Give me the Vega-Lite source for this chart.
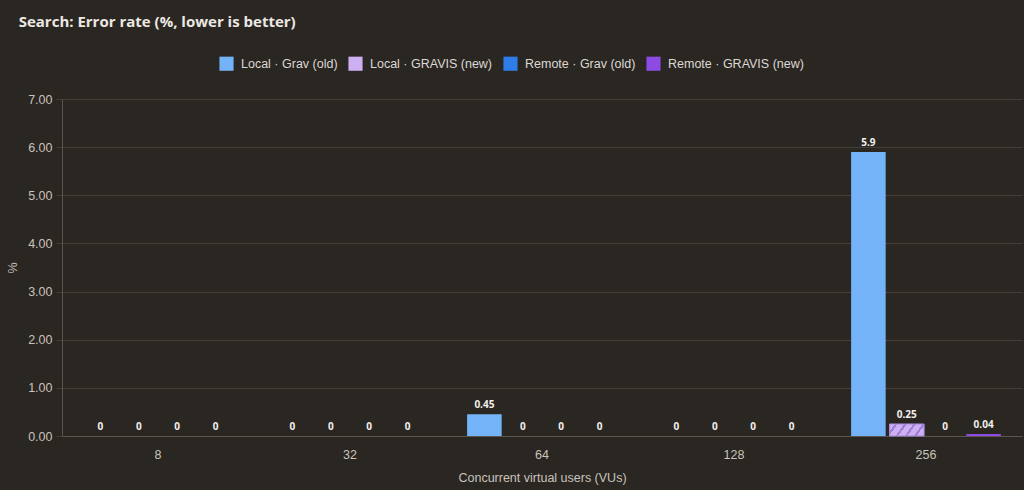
{
  "$schema": "https://vega.github.io/schema/vega-lite/v6.json",
  "autosize": {"type": "fit", "contains": "padding"},
  "width": 1024,
  "height": 490,
  "padding": {"left": 6, "right": 2, "top": 15, "bottom": 6},
  "background": "#2a2622",
  "title": {"text": "Search: Error rate (%, lower is better)", "anchor": "start", "font": "Open Sans", "fontSize": 15, "fontWeight": "bold", "color": "#ece8e2", "offset": 63, "dx": 12},
  "config": {
    "view": {"stroke": null},
    "axis": {"labelFont": "Liberation Sans", "titleFont": "Liberation Sans", "labelColor": "#c9c3bb", "titleColor": "#c9c3bb", "titleFontWeight": "normal", "labelFontSize": 12.5, "titleFontSize": 12.5, "domainColor": "#5a554f", "gridColor": "#433e38", "tickColor": "#433e38"}
  },
  "data": {"values": [
    {"vus": "8", "series": "Local · Grav (old)", "value": 0},
    {"vus": "8", "series": "Local · GRAVIS (new)", "value": 0},
    {"vus": "8", "series": "Remote · Grav (old)", "value": 0},
    {"vus": "8", "series": "Remote · GRAVIS (new)", "value": 0},
    {"vus": "32", "series": "Local · Grav (old)", "value": 0},
    {"vus": "32", "series": "Local · GRAVIS (new)", "value": 0},
    {"vus": "32", "series": "Remote · Grav (old)", "value": 0},
    {"vus": "32", "series": "Remote · GRAVIS (new)", "value": 0},
    {"vus": "64", "series": "Local · Grav (old)", "value": 0.45},
    {"vus": "64", "series": "Local · GRAVIS (new)", "value": 0},
    {"vus": "64", "series": "Remote · Grav (old)", "value": 0},
    {"vus": "64", "series": "Remote · GRAVIS (new)", "value": 0},
    {"vus": "128", "series": "Local · Grav (old)", "value": 0},
    {"vus": "128", "series": "Local · GRAVIS (new)", "value": 0},
    {"vus": "128", "series": "Remote · Grav (old)", "value": 0},
    {"vus": "128", "series": "Remote · GRAVIS (new)", "value": 0},
    {"vus": "256", "series": "Local · Grav (old)", "value": 5.9},
    {"vus": "256", "series": "Local · GRAVIS (new)", "value": 0.25},
    {"vus": "256", "series": "Remote · Grav (old)", "value": 0},
    {"vus": "256", "series": "Remote · GRAVIS (new)", "value": 0.04}
  ]},
  "encoding": {
    "x": {"field": "vus", "type": "ordinal", "sort": ["8", "32", "64", "128", "256"],
      "scale": {"paddingInner": 0.2, "paddingOuter": 0.1},
      "axis": {"title": "Concurrent virtual users (VUs)", "labelAngle": 0, "ticks": false, "labelPadding": 12, "titlePadding": 11, "grid": false}},
    "xOffset": {"field": "series", "type": "nominal",
      "scale": {"domain": ["Local · Grav (old)", "Local · GRAVIS (new)", "Remote · Grav (old)", "Remote · GRAVIS (new)"], "paddingInner": 0.1, "paddingOuter": 0.05}},
    "y": {"field": "value", "type": "quantitative",
      "scale": {"domain": [0, 7]},
      "axis": {"title": "%", "values": [0, 1, 2, 3, 4, 5, 6, 7], "format": ".2f", "tickSize": 6, "labelPadding": 4, "titlePadding": 8, "domain": true}}
  },
  "layer": [
    {
      "mark": {"type": "bar"},
      "encoding": {
        "color": {"field": "series", "type": "nominal",
          "scale": {"domain": ["Local · Grav (old)", "Local · GRAVIS (new)", "Remote · Grav (old)", "Remote · GRAVIS (new)"], "range": ["#74b3f7", "#cdb0f2", "#2f7de8", "#8c4be3"]},
          "legend": {"orient": "none", "legendX": 157, "legendY": -43, "direction": "horizontal", "title": null, "labelColor": "#dcd8d2", "labelFont": "Liberation Sans", "labelFontSize": 12.5, "symbolType": "square", "symbolSize": 200, "symbolStrokeWidth": 0, "symbolOpacity": 1, "columnPadding": 10, "labelOffset": 7}
        }
      }
    },
    {
      "transform": [{"filter": "datum.series === 'Local · GRAVIS (new)' && datum.value > 0"}],
      "mark": {"type": "bar", "stroke": "#a58ad8", "strokeWidth": 1, "color": {"gradient": "linear", "x1": 0, "y1": 0, "x2": 1, "y2": 0.25, "stops": [
        {"offset": 0, "color": "#cdb0f2"}, {"offset": 0.15, "color": "#cdb0f2"}, {"offset": 0.15, "color": "#a27fd6"}, {"offset": 0.22, "color": "#a27fd6"},
        {"offset": 0.22, "color": "#cdb0f2"}, {"offset": 0.4, "color": "#cdb0f2"}, {"offset": 0.4, "color": "#a27fd6"}, {"offset": 0.47, "color": "#a27fd6"},
        {"offset": 0.47, "color": "#cdb0f2"}, {"offset": 0.65, "color": "#cdb0f2"}, {"offset": 0.65, "color": "#a27fd6"}, {"offset": 0.72, "color": "#a27fd6"},
        {"offset": 0.72, "color": "#cdb0f2"}, {"offset": 0.9, "color": "#cdb0f2"}, {"offset": 0.9, "color": "#a27fd6"}, {"offset": 0.97, "color": "#a27fd6"},
        {"offset": 0.97, "color": "#cdb0f2"}, {"offset": 1, "color": "#cdb0f2"}]}}
    },
    {
      "mark": {"type": "text", "baseline": "bottom", "dy": -4, "font": "Open Sans", "fontSize": 10, "fontWeight": "bold", "color": "#f2f0ec"},
      "encoding": {"text": {"field": "value", "type": "quantitative", "format": ".2~f"}}
    }
  ]
}
